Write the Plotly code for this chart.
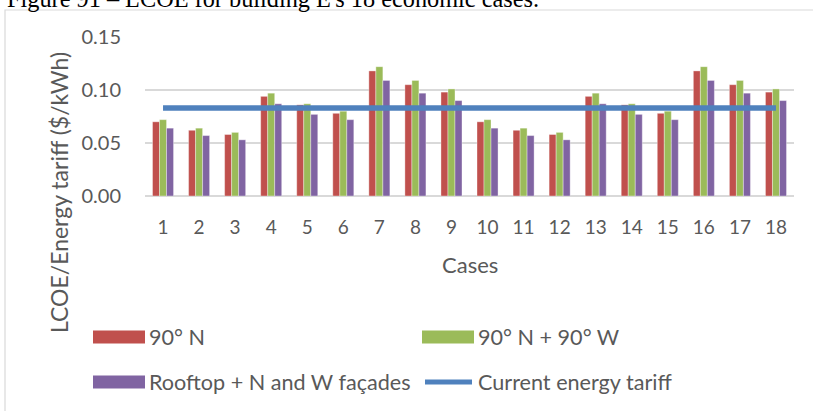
import plotly.graph_objects as go

cases = [str(i) for i in range(1, 19)]
north_90 = [0.070, 0.062, 0.058, 0.094, 0.086, 0.078, 0.118, 0.105, 0.098,
            0.070, 0.062, 0.058, 0.094, 0.086, 0.078, 0.118, 0.105, 0.098]
north_west_90 = [0.072, 0.064, 0.060, 0.097, 0.087, 0.080, 0.122, 0.109, 0.101,
                 0.072, 0.064, 0.060, 0.097, 0.087, 0.080, 0.122, 0.109, 0.101]
rooftop_nw = [0.064, 0.057, 0.053, 0.087, 0.077, 0.072, 0.109, 0.097, 0.090,
              0.064, 0.057, 0.053, 0.087, 0.077, 0.072, 0.109, 0.097, 0.090]
tariff = [0.083] * 18

series_names = ["90° N", "90° N + 90° W", "Rooftop + N and W façades", "Current energy tariff"]
colors = ["#C0504D", "#9BBB59", "#8064A2", "#4F81BD"]
y_ticks = [0.00, 0.05, 0.10, 0.15]
x_title = "Cases"
y_title = "LCOE/Energy tariff ($/kWh)"
caption = "Figure 91 – LCOE for building E's 18 economic cases."

W, H = 813, 411
L, R, T, B = 145, 19, 37, 215
PW, PH = W - L - R, H - T - B


def px(p):
    return (p - L) / PW


def py(p):
    return (H - B - p) / PH


FONT = "Lato"
GREY = "#595959"

fig = go.Figure()
for name, vals, col in zip(series_names[:3], [north_90, north_west_90, rooftop_nw], colors[:3]):
    fig.add_trace(go.Bar(x=cases, y=vals, name=name, marker_color=col,
                         marker_line=dict(width=0.6, color="rgba(255,255,255,0.6)"),
                         showlegend=False))
fig.add_trace(go.Scatter(x=cases, y=tariff, name=series_names[3], mode="lines",
                         line=dict(color=colors[3], width=5.5), showlegend=False))

shapes = []
annotations = []
# chart border
shapes.append(dict(type="rect", xref="paper", yref="paper",
                   x0=px(5), x1=px(840), y0=py(10), y1=py(440),
                   line=dict(color="#d9d9d9", width=1.2), fillcolor="rgba(0,0,0,0)", layer="below"))

# manual legend (left edge of swatch, row centre, in pixels)
leg = [
    (0, 93, 337),
    (1, 422, 337),
    (2, 93, 382),
    (3, 422, 382),
]
for idx, x0, yc in leg:
    if idx < 3:
        shapes.append(dict(type="rect", xref="paper", yref="paper",
                           x0=px(x0), x1=px(x0 + 52), y0=py(yc + 6.5), y1=py(yc - 6.5),
                           line=dict(width=0), fillcolor=colors[idx]))
    else:
        shapes.append(dict(type="line", xref="paper", yref="paper",
                           x0=px(x0 + 3), x1=px(x0 + 50), y0=py(yc), y1=py(yc),
                           line=dict(width=5, color=colors[idx])))
    annotations.append(dict(text=series_names[idx], xref="paper", yref="paper",
                            x=px(x0 + 54), y=py(yc), xanchor="left", yanchor="middle",
                            showarrow=False, font=dict(family=FONT, size=21.6, color=GREY)))

# axis titles
annotations.append(dict(text=x_title, xref="paper", yref="paper", x=0.5, y=py(264),
                        xanchor="center", yanchor="middle", showarrow=False,
                        font=dict(family=FONT, size=22, color=GREY)))
annotations.append(dict(text=y_title, xref="paper", yref="paper", x=px(59), y=py(193),
                        xanchor="center", yanchor="middle", textangle=-90, showarrow=False,
                        font=dict(family=FONT, size=23, color=GREY)))

annotations.append(dict(text=caption, xref="paper", yref="paper", x=px(5), y=py(14),
                        xanchor="left", yanchor="bottom", showarrow=False,
                        font=dict(family="Liberation Serif", size=24.3, color="black")))

fig.update_layout(
    width=W, height=H,
    margin=dict(l=L, r=R, t=T, b=B, autoexpand=False),
    paper_bgcolor="white", plot_bgcolor="white",
    barmode="group", bargap=0.4167, bargroupgap=0,
    shapes=shapes, annotations=annotations,
    font=dict(family=FONT, color=GREY),
    showlegend=False,
)
fig.update_xaxes(
    type="category", showgrid=False, showline=False, ticks="",
    tickfont=dict(family=FONT, size=19, color=GREY), ticklabelstandoff=18,
    automargin=False,
)
fig.update_yaxes(
    range=[0, 0.15], tickvals=y_ticks, tickformat=".2f",
    showgrid=True, gridcolor="#d9d9d9", gridwidth=1.5,
    zeroline=True, zerolinecolor="#d9d9d9", zerolinewidth=1.5,
    showline=False, ticks="",
    tickfont=dict(family=FONT, size=20, color=GREY), ticklabelstandoff=23,
    automargin=False,
)

fig.write_html("out.html", config={"displayModeBar": False},
               post_script="document.body.style.margin='0';document.body.style.overflow='hidden';")
